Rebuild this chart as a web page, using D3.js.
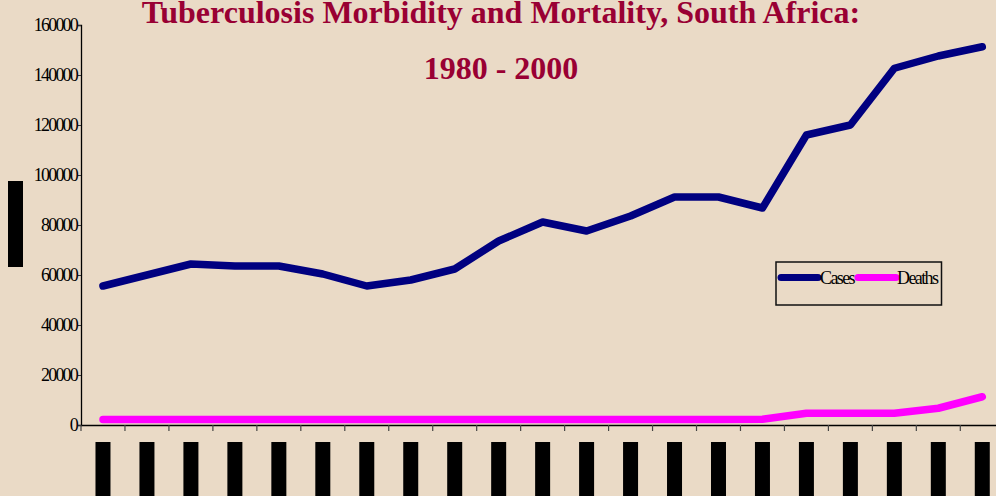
<!DOCTYPE html>
<html><head><meta charset="utf-8">
<script src="https://cdn.jsdelivr.net/npm/d3@7/dist/d3.min.js"></script>
<style>html,body{margin:0;padding:0;background:#EADAC6;overflow:hidden}</style>
</head><body>
<svg id="c" width="996" height="496"></svg>
<script>
const years = d3.range(1980, 2001);
const cases = [55600, 60000, 64400, 63600, 63600, 60400, 55600, 58000, 62400, 73600, 81200, 77600, 83600, 91200, 91200, 86800, 116000, 120000, 142700, 147600, 151300];
const deaths = [2200, 2200, 2200, 2200, 2200, 2200, 2200, 2200, 2200, 2200, 2200, 2200, 2200, 2200, 2200, 2300, 4700, 4700, 4700, 6700, 11300];
const yTicks = [0, 20000, 40000, 60000, 80000, 100000, 120000, 140000, 160000];
const titleLines = ["Tuberculosis Morbidity and Mortality, South Africa:", "1980 - 2000"];
const seriesNames = ["Cases", "Deaths"];
const colors = ["#000080", "#FF00FF"];

const svg = d3.select("#c");
svg.append("rect").attr("width", 996).attr("height", 496).attr("fill", "#EADAC6");

const mLeft = 81, mTop = 25, mBottom = 425;
const step = 43.965;
const x = d3.scaleBand().domain(years).range([mLeft, mLeft + step * years.length]).padding(0);
const y = d3.scaleLinear().domain([0, 160000]).range([mBottom, mTop]);

// title
svg.selectAll("text.title").data(titleLines).enter().append("text")
  .attr("x", 501).attr("y", (d, i) => i === 0 ? 23 : 79)
  .attr("text-anchor", "middle")
  .attr("font-family", "'Liberation Serif','Times New Roman',serif")
  .attr("font-weight", "bold").attr("font-size", 32).attr("fill", "#990033")
  .text(d => d);

// y axis
const yAxis = d3.axisLeft(y).tickValues(yTicks).tickSize(3).tickFormat(d3.format("d"));
const gy = svg.append("g").attr("transform", `translate(${mLeft},0)`).call(yAxis);
gy.select(".domain").attr("stroke", "#000").attr("stroke-width", 1.3);
gy.selectAll(".tick line").attr("stroke", "#333");
gy.selectAll(".tick text")
  .attr("font-family", "'Liberation Serif','Times New Roman',serif")
  .attr("font-size", 18).attr("fill", "#000").attr("letter-spacing", "-1.8px")
  .attr("x", -4).attr("dy", "0.3em");

// x axis
const xAxis = d3.axisBottom(x).tickSize(0).tickFormat("");
const gx = svg.append("g").attr("transform", `translate(0,${mBottom})`).call(xAxis);
gx.select(".domain").attr("stroke", "#000").attr("stroke-width", 1.3);
svg.selectAll("line.xt").data(years).enter().append("line")
  .attr("x1", d => x(d)).attr("x2", d => x(d))
  .attr("y1", mBottom).attr("y2", mBottom + 6)
  .attr("stroke", "#444").attr("stroke-width", 1.2);

// x labels (rendered as dark blocks like the reference)
const xl = svg.selectAll("g.xl").data(years).enter().append("g")
  .attr("transform", d => `translate(${x(d) + x.bandwidth() / 2},442)`);
xl.append("rect").attr("x", -7.5).attr("y", 0).attr("width", 15).attr("height", 60).attr("fill", "#000");
xl.append("text").attr("transform", "rotate(-90)").attr("x", -4).attr("y", 5)
  .attr("text-anchor", "end").attr("font-family", "'Liberation Serif',serif")
  .attr("font-size", 14).attr("fill", "#000").text(d => d);

// y title block
const yt = svg.append("g").attr("transform", "translate(15.5,224)");
yt.append("rect").attr("x", -7.5).attr("y", -43).attr("width", 15).attr("height", 86).attr("fill", "#000");
yt.append("text").attr("transform", "rotate(-90)").attr("text-anchor", "middle").attr("y", 5)
  .attr("font-family", "'Liberation Serif',serif").attr("font-size", 14).attr("fill", "#000").text("Number");

// lines
const line = d3.line().x((d, i) => x(years[i]) + x.bandwidth() / 2).y(d => y(d));
[cases, deaths].forEach((s, k) => {
  svg.append("path").datum(s).attr("d", line)
    .attr("fill", "none").attr("stroke", colors[k]).attr("stroke-width", 7.5)
    .attr("stroke-linejoin", "round").attr("stroke-linecap", "round");
});

// legend
const lg = svg.append("g");
lg.append("rect").attr("x", 776).attr("y", 262).attr("width", 165.5).attr("height", 43)
  .attr("fill", "none").attr("stroke", "#111").attr("stroke-width", 1.5);
const legX = [[781, 818, 820], [858, 896, 897]];
seriesNames.forEach((n, k) => {
  lg.append("line").attr("x1", legX[k][0]).attr("x2", legX[k][1]).attr("y1", 277.5).attr("y2", 277.5)
    .attr("stroke", colors[k]).attr("stroke-width", 7).attr("stroke-linecap", "round");
  lg.append("text").attr("x", legX[k][2]).attr("y", 284)
    .attr("font-family", "'Liberation Serif','Times New Roman',serif")
    .attr("font-size", 18).attr("letter-spacing", "-1.6px").attr("fill", "#000").text(n);
});
</script>
</body></html>
